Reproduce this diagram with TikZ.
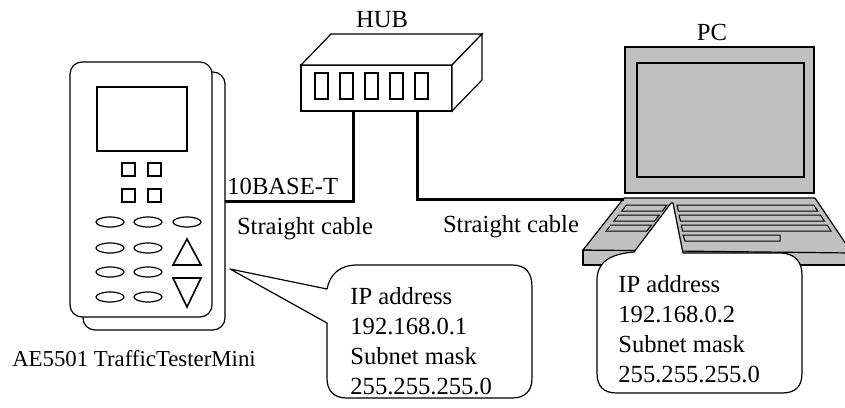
\documentclass[tikz,border=0pt]{standalone}
\usepackage{fontspec}
\setmainfont{Liberation Serif}
\usepackage{tikz}
\usetikzlibrary{positioning,calc}
\definecolor{lapgray}{RGB}{192,192,192}
\tikzset{
  lbl/.style={inner sep=0, font=\fontsize{12.3}{15}\selectfont},
  iplbl/.style={lbl, align=left, anchor=west},
  testerbox/.style={draw, rounded corners=6pt, fill=white, line width=0.6pt, inner sep=0, outer sep=0, minimum width=71pt},
  hubface/.style={draw, fill=white, line width=0.6pt, inner sep=0, outer sep=0, minimum width=75.5pt, minimum height=23pt},
  screenbox/.style={draw, fill=lapgray, line width=0.8pt, inner sep=0, outer sep=0, minimum width=94.5pt, minimum height=73pt},
  keybase/.style={draw, fill=lapgray, line width=0.6pt, line join=round},
  keyrow/.style={draw, fill=lapgray, line width=0.5pt},
  bubble/.style={draw, fill=white, line width=0.6pt, line join=round},
  devline/.style={line width=0.8pt},
  cable/.style={line width=1.5pt}
}

\begin{document}
\begin{tikzpicture}[x=0.5pt,y=-0.5pt]
  \useasboundingbox (0,0) rectangle (845,407);

  % tester
  \node[testerbox, minimum height=129pt] (testerback) at (154,201) {};
  \node[testerbox, minimum height=127.5pt] (tester) at (141,189.5) {};
  \draw[line width=0.9pt] (97,87) rectangle (187,151);
  \foreach \x in {122,148}
    \foreach \y in {163,189}
      \draw[devline] (\x,\y) rectangle ++(13,13);
  \foreach \x in {110,148,187}
    \draw[line width=0.6pt] (\x,222) ellipse [x radius=7pt, y radius=2.5pt];
  \foreach \y in {248,272,297}
    \foreach \x in {110,148}
      \draw[line width=0.6pt] (\x,\y) ellipse [x radius=7pt, y radius=2.5pt];
  \draw[devline, line join=miter] (173,265) -- (187,239) -- (201,265) -- cycle;
  \draw[devline, line join=miter] (173,278) -- (201,278) -- (187,307) -- cycle;
  \node[lbl, font=\fontsize{11.4}{14}\selectfont] (testerlbl) at (134,359) {AE5501 TrafficTesterMini};

  % hub
  \node[hubface] (hub) at (376.5,88) {};
  \draw[line width=0.6pt, fill=white] (hub.north west) -- ++(30,-31) -- ++(151,0) -- (hub.north east) -- cycle;
  \draw[line width=0.6pt, fill=white] (hub.north east) -- ++(30,-31) -- ++(0,46) -- (hub.south east) -- cycle;
  \foreach \i in {0,...,4}
    \draw[devline] (315+25*\i,73) rectangle ++(13,26);
  \node[lbl] (hublbl) at (382,20) {HUB};
  \coordinate (portA) at (353,111);
  \coordinate (portB) at (417,111);

  % laptop
  \node[screenbox] (pcscreen) at (719.5,120) {};
  \draw[line width=1pt, fill=lapgray] (637,63) rectangle (804,177);
  \node[lbl] (pclbl) at (712,32) {PC};
  \draw[keybase] (583,250) rectangle (852,265);
  \draw[keybase] (624,198) -- (815,198) -- (852,253) -- (583,250) -- cycle;
  \coordinate (pcport) at (624,199);
  \foreach \y in {205,215,225} {
    \draw[keyrow] ({632-0.788*(\y-198)},\y) -- ({667-0.778*(\y-205)},\y)
      -- ({667-0.778*(\y-199)},\y+6) -- ({632-0.788*(\y-192)},\y+6) -- cycle;
    \draw[keyrow] ({677+0.213*(\y-205)},\y) -- ({809+0.667*(\y-198)},\y)
      -- ({809+0.667*(\y-192)},\y+6) -- ({677+0.213*(\y-199)},\y+6) -- cycle;
  }
  \draw[keyrow] (683,235) -- (780,235) -- (780,241) -- (685,241) -- cycle;

  % cables
  \draw[cable] (testerback.east) -| (portA);
  \draw[cable] (portB) |- (pcport);
  \node[lbl, anchor=west] (baselbl) at (227,186) {10BASE-T};
  \node[lbl] (cableA) at (305,229) {Straight cable};
  \node[lbl] (cableB) at (511,227) {Straight cable};

  % address callouts
  \draw[bubble] (230,269) -- (327,289) .. controls (330,274) and (340,265) .. (357,265)
    -- (512,265) .. controls (526,265) and (532,273) .. (532,287)
    -- (532,378) .. controls (532,392) and (524,398) .. (512,398)
    -- (347,398) .. controls (333,398) and (327,390) .. (327,378)
    -- (327,323) -- cycle;
  \node[iplbl] (ipA) at (350,341) {IP address\\192.168.0.1\\Subnet mask\\255.255.255.0};

  \draw[bubble] (671,203) -- (634,252) .. controls (610,254) and (597,262) .. (597,280)
    -- (597,373) .. controls (597,386) and (603,393) .. (617,393)
    -- (782,393) .. controls (796,393) and (802,386) .. (802,373)
    -- (802,275) .. controls (802,262) and (795,253) .. (780,253)
    -- (683,253) -- (673,203) -- cycle;
  \node[iplbl] (ipB) at (618,329) {IP address\\192.168.0.2\\Subnet mask\\255.255.255.0};
\end{tikzpicture}
\end{document}
